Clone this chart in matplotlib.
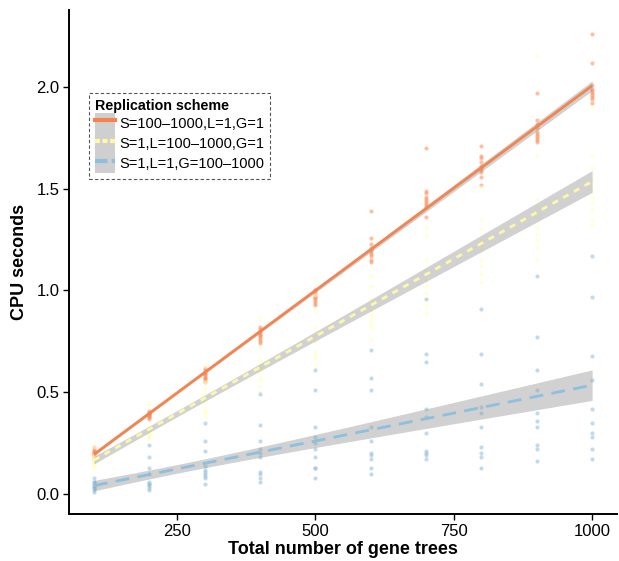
import numpy as np
import matplotlib
matplotlib.use("Agg")
import matplotlib.pyplot as plt
from matplotlib.lines import Line2D
from matplotlib.patches import Patch

plt.rcParams['font.family'] = ['Liberation Sans', 'DejaVu Sans']

# number of gene trees
trees = [100, 200, 300, 400, 500, 600, 700, 800, 900, 1000]

# CPU seconds, 10 replicates per number of trees
s_vary = [
    [0.17, 0.18, 0.19, 0.19, 0.20, 0.20, 0.21, 0.21, 0.22, 0.23],
    [0.37, 0.38, 0.38, 0.39, 0.39, 0.39, 0.40, 0.40, 0.40, 0.41],
    [0.55, 0.56, 0.57, 0.57, 0.58, 0.59, 0.59, 0.60, 0.61, 0.62],
    [0.74, 0.75, 0.76, 0.77, 0.78, 0.78, 0.79, 0.80, 0.81, 0.82],
    [0.93, 0.94, 0.95, 0.96, 0.97, 0.97, 0.98, 0.99, 1.00, 1.00],
    [1.14, 1.15, 1.17, 1.18, 1.19, 1.20, 1.21, 1.23, 1.26, 1.39],
    [1.36, 1.41, 1.42, 1.43, 1.44, 1.45, 1.46, 1.48, 1.49, 1.70],
    [1.52, 1.56, 1.58, 1.59, 1.60, 1.61, 1.63, 1.65, 1.66, 1.71],
    [1.73, 1.74, 1.75, 1.76, 1.77, 1.78, 1.80, 1.82, 1.84, 1.97],
    [1.92, 1.94, 1.95, 1.96, 1.97, 1.98, 1.99, 2.01, 2.12, 2.26],
]
l_vary = [
    [0.13, 0.14, 0.15, 0.15, 0.16, 0.17, 0.17, 0.18, 0.19, 0.23],
    [0.27, 0.28, 0.29, 0.29, 0.30, 0.30, 0.31, 0.32, 0.33, 0.44],
    [0.38, 0.40, 0.41, 0.42, 0.45, 0.47, 0.50, 0.52, 0.55, 0.63],
    [0.50, 0.53, 0.56, 0.58, 0.60, 0.62, 0.64, 0.66, 0.72, 0.87],
    [0.63, 0.67, 0.68, 0.70, 0.75, 0.78, 0.82, 0.90, 0.98, 1.05],
    [0.76, 0.82, 0.84, 0.86, 0.88, 0.90, 0.92, 0.96, 1.02, 1.07],
    [0.89, 0.93, 0.96, 0.99, 1.02, 1.05, 1.10, 1.15, 1.27, 1.31],
    [1.04, 1.08, 1.12, 1.15, 1.20, 1.22, 1.25, 1.30, 1.35, 1.51],
    [1.15, 1.21, 1.25, 1.28, 1.31, 1.36, 1.41, 1.45, 1.66, 2.15],
    [1.32, 1.35, 1.40, 1.43, 1.46, 1.50, 1.55, 1.60, 1.66, 1.90],
]
g_vary = [
    [0.01, 0.02, 0.03, 0.03, 0.04, 0.04, 0.05, 0.06, 0.06, 0.08],
    [0.02, 0.03, 0.04, 0.05, 0.05, 0.06, 0.10, 0.13, 0.18, 0.24],
    [0.05, 0.08, 0.09, 0.10, 0.11, 0.12, 0.14, 0.21, 0.26, 0.35],
    [0.06, 0.08, 0.10, 0.11, 0.18, 0.20, 0.22, 0.26, 0.34, 0.49],
    [0.08, 0.13, 0.13, 0.18, 0.22, 0.25, 0.28, 0.33, 0.51, 0.61],
    [0.10, 0.13, 0.17, 0.19, 0.20, 0.26, 0.33, 0.51, 0.57, 0.71],
    [0.17, 0.19, 0.20, 0.21, 0.30, 0.38, 0.42, 0.65, 0.69, 0.96],
    [0.13, 0.18, 0.20, 0.23, 0.33, 0.40, 0.43, 0.54, 0.69, 0.91],
    [0.16, 0.22, 0.24, 0.33, 0.36, 0.40, 0.51, 0.61, 0.77, 1.07],
    [0.17, 0.22, 0.28, 0.30, 0.35, 0.42, 0.56, 0.68, 0.97, 1.17],
]

labels = ['S=100\u20131000,L=1,G=1', 'S=1,L=100\u20131000,G=1', 'S=1,L=1,G=100\u20131000']
colors = ['#FC8D59', '#FFFFBF', '#91BFDB']
line_colors = ['#F4844F', '#FFF7A8', '#8DBFDE']
dashes = [None, (2.2, 2.2), (5, 3)]
series = [s_vary, l_vary, g_vary]


def wls_fit(x, y, xs, power=1.5):
    # weighted linear fit (variance grows with x) with 95% confidence band
    n = len(x)
    w = 1.0 / x ** power
    X = np.column_stack([np.ones(n), x])
    XtW = X.T * w
    cov = np.linalg.inv(XtW @ X)
    beta = cov @ (XtW @ y)
    resid = y - X @ beta
    sigma2 = np.sum(w * resid ** 2) / (n - 2)
    Xs = np.column_stack([np.ones(len(xs)), xs])
    fit = Xs @ beta
    se = np.sqrt(sigma2 * np.einsum('ij,jk,ik->i', Xs, cov, Xs))
    return fit, fit - 1.985 * se, fit + 1.985 * se


fig = plt.figure(figsize=(6.19, 5.61), dpi=100)
ax = fig.add_axes([69 / 619, 47 / 561, 548 / 619, 504 / 561])

xs_all = []
ys_all = []
for data in series:
    xs_all.append(np.repeat(trees, 10).astype(float))
    ys_all.append(np.array(data).ravel())

for xx, yy, c in zip(xs_all, ys_all, colors):
    ax.scatter(xx, yy, s=9, color=c, alpha=0.55, linewidths=0, zorder=2)

grid = np.linspace(min(trees), max(trees), 80)
for xx, yy, lc, d in zip(xs_all, ys_all, line_colors, dashes):
    fit, lo, hi = wls_fit(xx, yy, grid)
    ax.fill_between(grid, lo, hi, color='#999999', alpha=0.45, linewidth=0, zorder=3)
    ln, = ax.plot(grid, fit, color=lc, lw=2.0, zorder=4, solid_capstyle='butt')
    if d is not None:
        ln.set_dashes(d)

ax.set_xlim(55, 1045)
ax.set_ylim(-0.098, 2.378)
ax.set_xticks([250, 500, 750, 1000])
ax.set_yticks([0.0, 0.5, 1.0, 1.5, 2.0])
ax.set_yticklabels(['0.0', '0.5', '1.0', '1.5', '2.0'])
for side in ['top', 'right']:
    ax.spines[side].set_visible(False)
for side in ['left', 'bottom']:
    ax.spines[side].set_linewidth(1.4)
    ax.spines[side].set_color('black')
ax.tick_params(direction='out', length=4, width=1.0, labelsize=12, colors='black', pad=3)
ax.set_xlabel('Total number of gene trees', fontsize=13, fontweight='bold', labelpad=2)
ax.set_ylabel('CPU seconds', fontsize=13, fontweight='bold', labelpad=6)

handles = []
for lc, d in zip(line_colors, dashes):
    ln = Line2D([], [], color=lc, lw=3)
    if d is not None:
        ln.set_dashes((1.2, 0.6) if d[0] < 3 else (3, 1))
    handles.append((Patch(facecolor='#cfcfcf', edgecolor='none'), ln))

leg = ax.legend(handles, labels, title='Replication scheme', loc='upper left',
                bbox_to_anchor=(0.0365, 0.835), borderaxespad=0,
                fontsize=10.5, title_fontsize=10.3,
                handlelength=1.4, handleheight=1.75, labelspacing=0.0,
                handletextpad=0.25, borderpad=0.4, fancybox=False, framealpha=1)
leg.get_title().set_fontweight('bold')
leg._legend_box.align = 'left'
frame = leg.get_frame()
frame.set_edgecolor('#555555')
frame.set_linestyle((0, (3, 2)))
frame.set_linewidth(0.8)

fig.savefig('out.png', dpi=100)
